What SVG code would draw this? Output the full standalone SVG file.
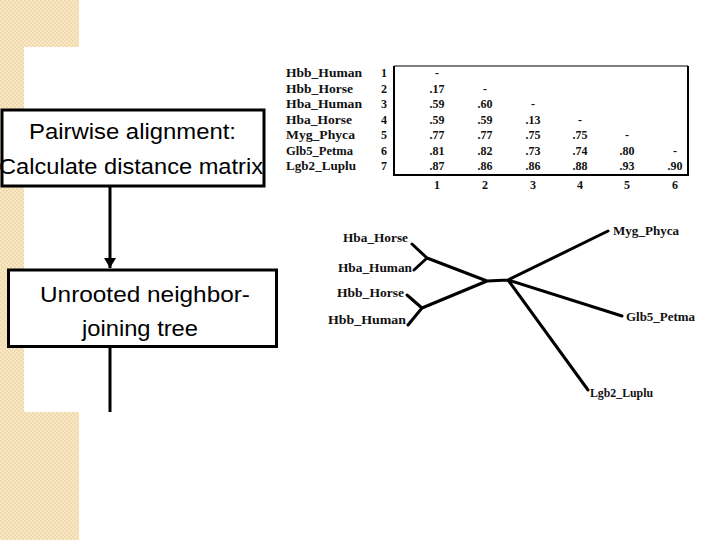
<svg xmlns="http://www.w3.org/2000/svg" width="720" height="540" viewBox="0 0 720 540">
<defs>
<pattern id="beige" width="4" height="4" patternUnits="userSpaceOnUse">
<rect width="4" height="4" fill="#f8e8c6"/>
<rect width="2" height="2" fill="#f0d9ac"/>
<rect x="2" y="2" width="2" height="2" fill="#f0d9ac"/>
</pattern>
<marker id="arr" viewBox="0 0 10 12" refX="10" refY="6" markerWidth="10" markerHeight="12" markerUnits="userSpaceOnUse" orient="auto">
<path d="M0,0 L10,6 L0,12 Z" fill="#000"/>
</marker>
<style>
.box{fill:#fff;stroke:#000;stroke-width:3}
.bt{font-family:"Liberation Sans",Arial,sans-serif;font-size:22px;fill:#000}
.lab{font-family:"Liberation Serif","Times New Roman",serif;font-weight:bold;font-size:12px;fill:#111}
.num{font-family:"Liberation Serif","Times New Roman",serif;font-weight:bold;font-size:12px;fill:#111;text-anchor:middle}
.br{fill:none;stroke:#000;stroke-width:3;stroke-linecap:round;stroke-linejoin:round}
.conn{fill:none;stroke:#000;stroke-width:3}
</style>
</defs>
<rect width="720" height="540" fill="#fff"/>
<rect x="0" y="0" width="79" height="540" fill="url(#beige)"/>
<rect x="24" y="47" width="60" height="365" fill="#fff"/>

<g id="connectors">
<line class="conn" x1="110" y1="187" x2="110" y2="268" marker-end="url(#arr)"/>
<line class="conn" x1="110" y1="347" x2="110" y2="412"/>
</g>

<g id="node-pairwise">
<rect class="box" x="2" y="110" width="262" height="76"/>
<text class="bt" x="29" y="139" textLength="207" lengthAdjust="spacingAndGlyphs">Pairwise alignment:</text>
<text class="bt" x="-1" y="174" textLength="264" lengthAdjust="spacingAndGlyphs">Calculate distance matrix</text>
</g>

<g id="node-tree">
<rect class="box" x="8.5" y="270" width="268" height="76.5"/>
<text class="bt" x="40" y="302" textLength="210" lengthAdjust="spacingAndGlyphs">Unrooted neighbor-</text>
<text class="bt" x="82" y="336" textLength="116" lengthAdjust="spacingAndGlyphs">joining tree</text>
</g>

<g id="matrix">
<path d="M394,66 H688" fill="none" stroke="#555" stroke-width="1.5"/>
<path d="M394,66 V175 H688 V66" fill="none" stroke="#000" stroke-width="2"/>
<g class="lab">
<text x="286" y="77" textLength="76" lengthAdjust="spacingAndGlyphs">Hbb_Human</text>
<text x="286" y="92.5" textLength="67" lengthAdjust="spacingAndGlyphs">Hbb_Horse</text>
<text x="286" y="108" textLength="76" lengthAdjust="spacingAndGlyphs">Hba_Human</text>
<text x="286" y="123.5" textLength="66" lengthAdjust="spacingAndGlyphs">Hba_Horse</text>
<text x="286" y="139" textLength="69" lengthAdjust="spacingAndGlyphs">Myg_Phyca</text>
<text x="286" y="154.5" textLength="67" lengthAdjust="spacingAndGlyphs">Glb5_Petma</text>
<text x="286" y="170" textLength="70" lengthAdjust="spacingAndGlyphs">Lgb2_Luplu</text>
</g>
<g class="num">
<text x="384" y="77">1</text>
<text x="384" y="92.5">2</text>
<text x="384" y="108">3</text>
<text x="384" y="123.5">4</text>
<text x="384" y="139">5</text>
<text x="384" y="154.5">6</text>
<text x="384" y="170">7</text>

<text x="437" y="77">-</text>
<text x="437" y="92.5">.17</text>
<text x="485" y="92.5">-</text>
<text x="437" y="108">.59</text>
<text x="485" y="108">.60</text>
<text x="533" y="108">-</text>
<text x="437" y="123.5">.59</text>
<text x="485" y="123.5">.59</text>
<text x="533" y="123.5">.13</text>
<text x="580" y="123.5">-</text>
<text x="437" y="139">.77</text>
<text x="485" y="139">.77</text>
<text x="533" y="139">.75</text>
<text x="580" y="139">.75</text>
<text x="627" y="139">-</text>
<text x="437" y="154.5">.81</text>
<text x="485" y="154.5">.82</text>
<text x="533" y="154.5">.73</text>
<text x="580" y="154.5">.74</text>
<text x="627" y="154.5">.80</text>
<text x="675" y="154.5">-</text>
<text x="437" y="170">.87</text>
<text x="485" y="170">.86</text>
<text x="533" y="170">.86</text>
<text x="580" y="170">.88</text>
<text x="627" y="170">.93</text>
<text x="675" y="170">.90</text>

<text x="437" y="189">1</text>
<text x="485" y="189">2</text>
<text x="533" y="189">3</text>
<text x="580" y="189">4</text>
<text x="627" y="189">5</text>
<text x="675" y="189">6</text>
</g>
</g>

<g id="nj-tree">
<path class="br" d="M412,244 L427,258 L414,270 M427,258 L487,281 L422,308 L407,295 M422,308 L408,325 M487,281 L508,280 L608,231 M508,280 L622,316 M508,280 L588,390"/>
<g class="lab">
<text x="343" y="242" textLength="65" lengthAdjust="spacingAndGlyphs">Hba_Horse</text>
<text x="338" y="272" textLength="74" lengthAdjust="spacingAndGlyphs">Hba_Human</text>
<text x="337" y="297" textLength="67" lengthAdjust="spacingAndGlyphs">Hbb_Horse</text>
<text x="328" y="324" textLength="78" lengthAdjust="spacingAndGlyphs">Hbb_Human</text>
<text x="613" y="235" textLength="66" lengthAdjust="spacingAndGlyphs">Myg_Phyca</text>
<text x="626" y="321" textLength="69" lengthAdjust="spacingAndGlyphs">Glb5_Petma</text>
<text x="590" y="397" textLength="63" lengthAdjust="spacingAndGlyphs">Lgb2_Luplu</text>
</g>
</g>
</svg>
